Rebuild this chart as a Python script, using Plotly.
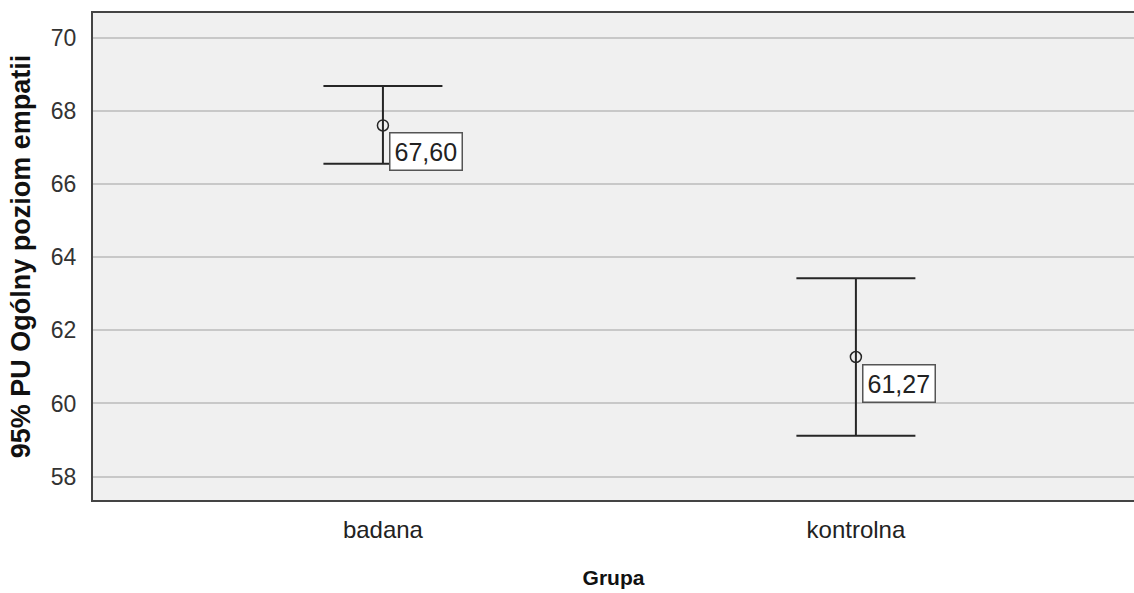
import plotly.graph_objects as go

# Group means with 95% confidence interval bounds
groups = ["badana", "kontrolna"]
means = [67.60, 61.27]
ci_upper = [68.68, 63.42]
ci_lower = [66.55, 59.12]
mean_labels = ["67,60", "61,27"]
y_ticks = [58, 60, 62, 64, 66, 68, 70]

regular = "Liberation Sans, Arial, sans-serif"
ink = "#262626"

fig = go.Figure()
fig.add_trace(go.Scatter(
    x=groups,
    y=means,
    mode="markers",
    marker=dict(symbol="circle-open", size=11, color=ink, line=dict(width=1.5, color=ink)),
    error_y=dict(
        type="data",
        symmetric=False,
        array=[u - m for u, m in zip(ci_upper, means)],
        arrayminus=[m - l for m, l in zip(means, ci_lower)],
        color=ink,
        thickness=2,
        width=59.5,
    ),
    showlegend=False,
    hoverinfo="skip",
))

for g, m, lab in zip(groups, means, mean_labels):
    fig.add_annotation(
        x=g, y=m, text=lab, showarrow=False,
        xanchor="left", yanchor="top", xshift=6, yshift=-7,
        font=dict(family=regular, size=25, color="#222222"),
        bgcolor="white", bordercolor="#555555", borderwidth=1.5, borderpad=4,
    )

fig.update_layout(
    width=1134, height=593,
    margin=dict(l=93, r=0, t=13, b=93),
    paper_bgcolor="white",
    plot_bgcolor="#f0f0f0",
    font=dict(family=regular, color="#222222"),
)
fig.update_xaxes(
    type="category",
    range=[-0.613, 1.588],
    showgrid=False, zeroline=False,
    showline=True, linecolor="#444444", linewidth=2, mirror=True,
    ticks="", ticklabelstandoff=7,
    tickfont=dict(family=regular, size=24, color="#222222"),
    title=dict(text="<b>Grupa</b>", font=dict(family=regular, size=21, color="#111111"), standoff=29),
)
fig.update_yaxes(
    range=[57.36, 70.675],
    tickvals=y_ticks,
    showgrid=True, gridcolor="#c8c8c8", gridwidth=1.5, zeroline=False,
    showline=True, linecolor="#444444", linewidth=2, mirror=False,
    ticks="", ticklabelstandoff=10,
    tickfont=dict(family=regular, size=23, color="#333333"),
    title=dict(text="<b>95% PU Ogólny poziom empatii</b>", font=dict(family=regular, size=27, color="#111111"), standoff=12),
)

fig.write_html("out.html")
